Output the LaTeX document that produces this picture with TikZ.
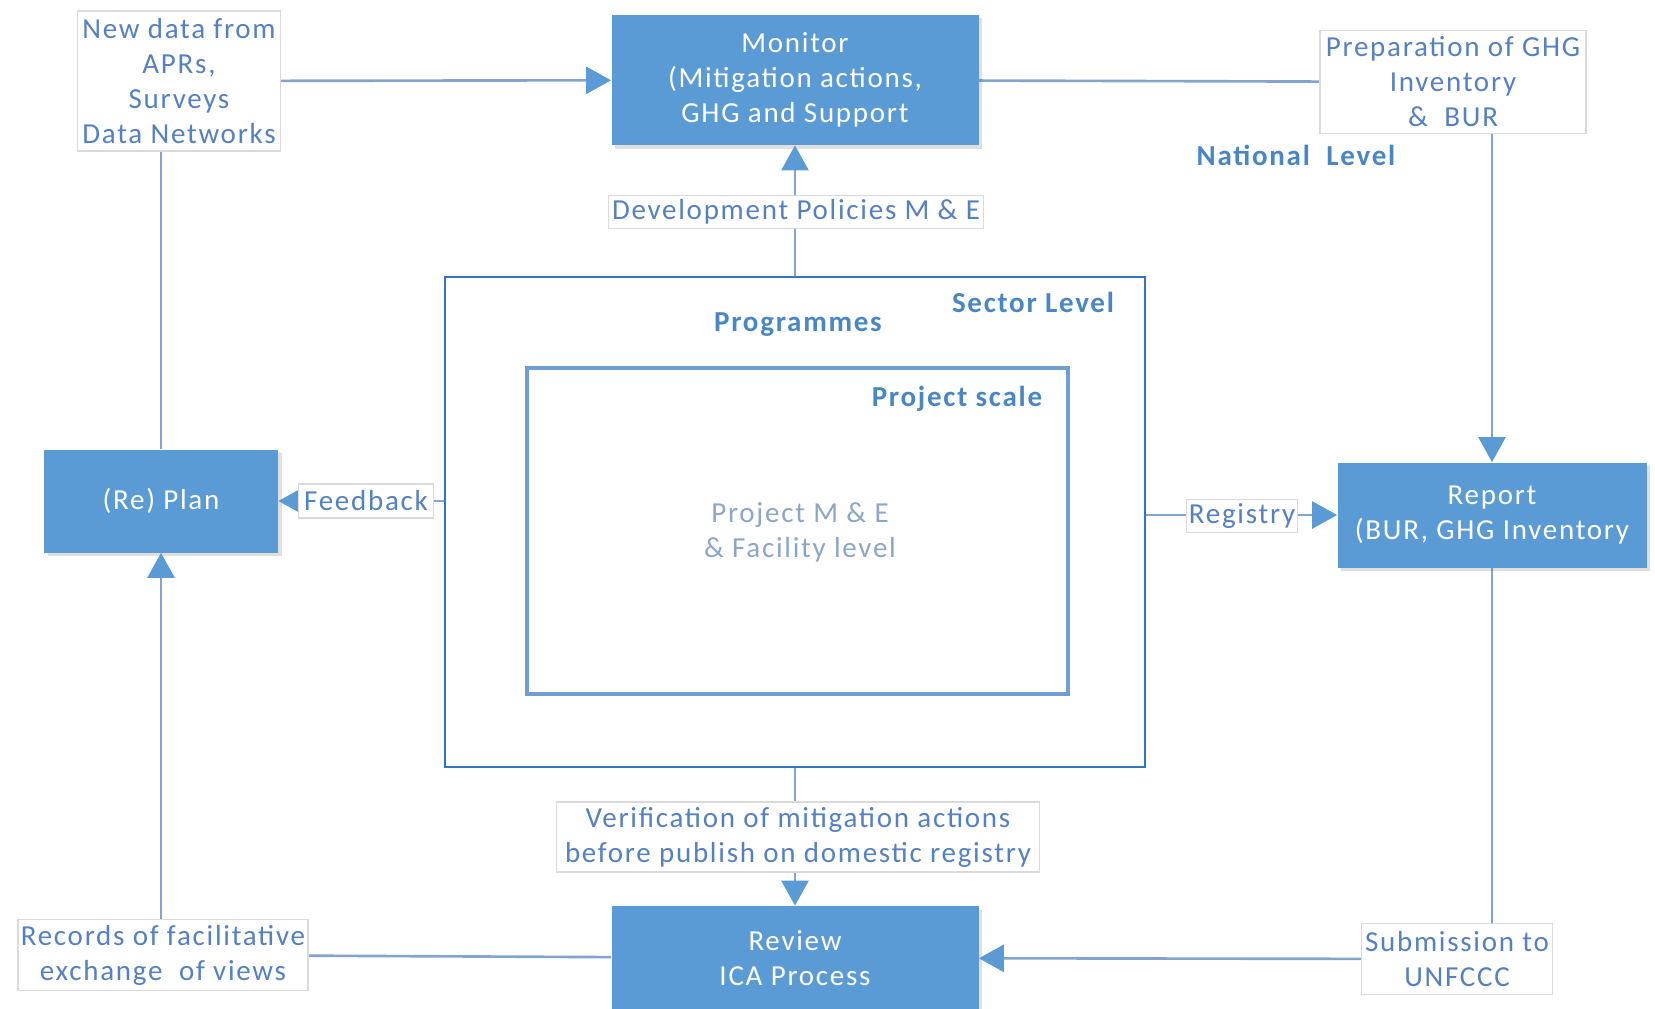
\documentclass[tikz,border=0pt]{standalone}
\usepackage{fontspec}
\setmainfont{Carlito}[LetterSpace=6]
\usepackage{tikz}
\usetikzlibrary{arrows.meta,shadows}
\pgfdeclarelayer{bg}
\pgfsetlayers{bg,main}

\definecolor{boxblue}{RGB}{91,155,213}
\definecolor{txtblue}{RGB}{84,128,196}
\definecolor{linecol}{RGB}{130,164,206}
\definecolor{sectcol}{RGB}{46,117,196}
\definecolor{projcol}{RGB}{112,158,212}
\definecolor{boxgray}{RGB}{218,218,218}
\definecolor{greytxt}{RGB}{140,166,200}
\definecolor{lvlblue}{RGB}{72,134,197}

\newcommand{\diagfont}{\fontsize{16.5}{19.9}\selectfont}

\tikzset{
    bluebox/.style={draw=none, fill=boxblue, text=white, align=center,
        drop shadow={shadow xshift=0.07cm, shadow yshift=-0.07cm, opacity=0.25}},
    labbox/.style={draw=boxgray, line width=0.6pt, fill=white, text=txtblue, align=center, inner sep=1pt},
    lvl/.style={text=lvlblue, font=\diagfont\bfseries},
    conn/.style={draw=linecol, line width=1.5pt},
    arr/.style={conn, -{Triangle[length=0.5cm, width=0.54cm, color=boxblue]}}
}

\begin{document}
\begin{tikzpicture}[font=\diagfont]
    \useasboundingbox (0cm, 0cm) rectangle (33.1cm, -20.18cm);

    \node (mon) [bluebox, minimum width=7.34cm, minimum height=2.6cm] at (15.9cm, -1.6cm) {Monitor\\(Mitigation actions,\\GHG and Support};
    \node (plan) [bluebox, minimum width=4.68cm, minimum height=2.06cm] at (3.22cm, -10.02cm) {(Re) Plan};
    \node (report) [bluebox, minimum width=6.18cm, minimum height=2.1cm] at (29.84cm, -10.3cm) {Report\\(BUR, GHG Inventory};
    \node (review) [bluebox, minimum width=7.34cm, minimum height=2.08cm] at (15.9cm, -19.16cm) {Review\\ICA Process};

    \node (newd) [labbox, minimum width=4.06cm, minimum height=2.8cm] at (3.58cm, -1.62cm) {New data from\\APRs,\\Surveys\\Data Networks};
    \node (prep) [labbox, minimum width=5.32cm, minimum height=2.06cm] at (29.06cm, -1.64cm) {Preparation of GHG\\Inventory\\\& \ BUR};
    \node (sub) [labbox, minimum width=3.82cm, minimum height=1.42cm] at (29.14cm, -19.18cm) {Submission to\\UNFCCC};
    \node (rec) [labbox, minimum width=5.8cm, minimum height=1.42cm] at (3.26cm, -19.1cm) {Records of facilitative\\exchange \ of views};

    \node (sector) [draw=sectcol, line width=1.6pt, minimum width=14.0cm, minimum height=9.8cm] at (15.9cm, -10.44cm) {};
    \node (proj) [draw=projcol, line width=2.6pt, minimum width=10.82cm, minimum height=6.52cm] at (15.95cm, -10.62cm) {};

    \node (devpol) [labbox, minimum width=7.5cm, minimum height=0.66cm] at (15.92cm, -4.24cm) {Development Policies M \& E};
    \node (verif) [labbox, minimum width=9.66cm, minimum height=1.4cm] at (15.96cm, -16.74cm) {Verification of mitigation actions\\before publish on domestic registry};
    \node (feed) [labbox, minimum width=2.7cm, minimum height=0.68cm] at (7.32cm, -10.02cm) {Feedback};
    \node (reg) [labbox, minimum width=2.22cm, minimum height=0.66cm] at (24.84cm, -10.32cm) {Registry};

    \node (natl) [lvl] at (25.92cm, -3.1cm) {National \ Level};
    \node (sectl) [lvl] at (20.66cm, -6.04cm) {Sector Level};
    \node (progl) [lvl] at (15.96cm, -6.5cm) {Programmes};
    \node (projl) [lvl] at (19.14cm, -7.98cm) {Project scale};
    \node (projme) [text=greytxt, align=center] at (16.0cm, -10.64cm) {Project M \& E\\\& Facility level};

    \begin{pgfonlayer}{bg}
        \draw[conn] (newd) edge[arr] (mon);
        \draw[conn] (mon) edge[conn] (prep);
        \draw[conn] (report |- prep.south) edge[arr] (report.north);
        \draw[conn] (report.south) edge[conn] (report.south |- sub.north);
        \draw[conn] (sub) edge[arr] (review);
        \draw[conn] (review) edge[conn] (rec);
        \draw[conn] (plan |- rec.north) edge[arr] (plan.south);
        \draw[conn] (plan.north) edge[conn] (plan |- newd.south);
        \draw[conn] (sector.north) edge[arr] (mon.south);
        \draw[conn] (sector.south) edge[arr] (review.north);
        \draw[conn] (sector.west |- plan) edge[arr] (plan.east);
        \draw[conn] (sector.east |- report) edge[arr] (report.west);
    \end{pgfonlayer}
\end{tikzpicture}
\end{document}
